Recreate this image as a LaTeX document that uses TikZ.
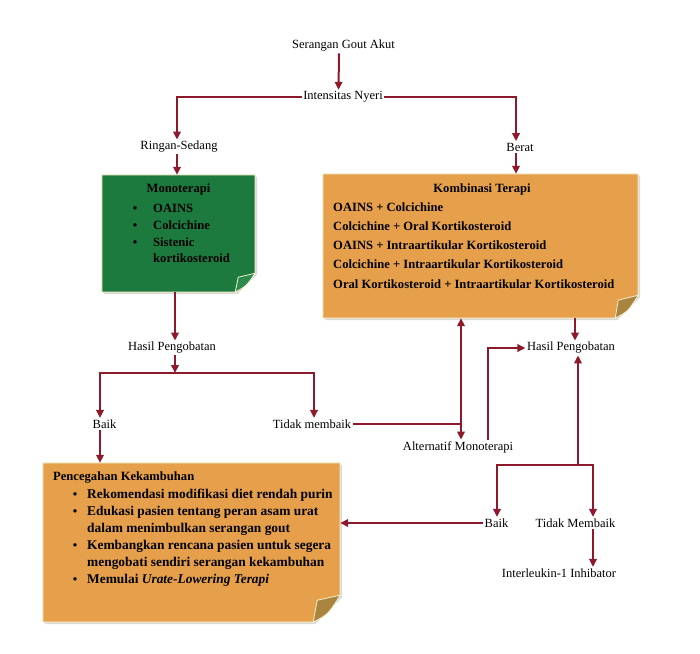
\documentclass[tikz,border=0pt]{standalone}
\usepackage{fontspec}
\setmainfont{Liberation Serif}
\usetikzlibrary{arrows.meta,calc}
\definecolor{arrowred}{HTML}{8C1A2C}
\definecolor{mgreen}{HTML}{1C7A3E}
\definecolor{morange}{HTML}{E6A04C}
\definecolor{cream}{HTML}{F4EFCB}
\definecolor{gfold}{HTML}{2C8A4C}
\definecolor{ofold}{HTML}{A8843F}
\definecolor{shadowgray}{HTML}{DADADA}
\begin{document}
\begin{tikzpicture}[x=1pt,y=-1pt,
  lbl/.style={inner sep=1.5pt, font=\fontsize{12.5}{15}\selectfont},
  arr/.style={draw=arrowred, line width=2pt, -{Triangle[length=8pt,width=7.5pt]}},
  ln/.style={draw=arrowred, line width=2pt},
  boxarea/.style={inner sep=0pt, draw=none},
  btext/.style={font=\bfseries\fontsize{12.6}{15}\selectfont, inner sep=0pt, anchor=base west},
  ptext/.style={font=\bfseries\fontsize{13.4}{16}\selectfont, inner sep=0pt, anchor=base west},
  bull/.style={font=\bfseries\fontsize{12.6}{15}\selectfont, inner sep=0pt, anchor=base},
  boxfill/.style={draw=cream, line width=1pt},
  foldfill/.style={draw=cream, line width=0.8pt}
]
\useasboundingbox (0,0) rectangle (700,653);
\fill[white] (0,0) rectangle (700,653);

% ---------- boxes ----------
\node[boxarea, minimum width=153pt, minimum height=117pt] (mono) at (178.5,233.5) {};
\node[boxarea, minimum width=315pt, minimum height=144pt] (komb) at (480.5,246) {};
\node[boxarea, minimum width=297pt, minimum height=159pt] (prev) at (191.5,542.5) {};

% shadows
\foreach \b/\c in {mono/20, komb/23, prev/27}{
  \fill[shadowgray] ([shift={(2pt,-2pt)}]\b.north west) -- ([shift={(2pt,-2pt)}]\b.north east)
     -- ([shift={(2pt,\c pt-2pt)}]\b.south east) -- ([shift={(2pt-\c pt,-2pt)}]\b.south east)
     -- ([shift={(2pt,-2pt)}]\b.south west) -- cycle;
}

\path[fill=mgreen, boxfill] (mono.north west) -- (mono.north east) -- ([yshift=19pt]mono.south east)
  -- ([xshift=-20pt]mono.south east) -- (mono.south west) -- cycle;
\path[fill=gfold, foldfill] ([xshift=-20pt]mono.south east) -- ([xshift=-17pt,yshift=15pt]mono.south east)
  -- ([yshift=19pt]mono.south east) .. controls ([xshift=-9pt,yshift=6pt]mono.south east) .. ([xshift=-20pt]mono.south east) -- cycle;

\path[fill=morange, boxfill] (komb.north west) -- (komb.north east) -- ([yshift=23pt]komb.south east)
  -- ([xshift=-23pt]komb.south east) -- (komb.south west) -- cycle;
\path[fill=ofold, foldfill] ([xshift=-23pt]komb.south east) -- ([xshift=-20pt,yshift=18pt]komb.south east)
  -- ([yshift=23pt]komb.south east) .. controls ([xshift=-10pt,yshift=7pt]komb.south east) .. ([xshift=-23pt]komb.south east) -- cycle;

\path[fill=morange, boxfill] (prev.north west) -- (prev.north east) -- ([yshift=27pt]prev.south east)
  -- ([xshift=-27pt]prev.south east) -- (prev.south west) -- cycle;
\path[fill=ofold, foldfill] ([xshift=-27pt]prev.south east) -- ([xshift=-23pt,yshift=22pt]prev.south east)
  -- ([yshift=27pt]prev.south east) .. controls ([xshift=-12pt,yshift=8pt]prev.south east) .. ([xshift=-27pt]prev.south east) -- cycle;

% ---------- box texts ----------
\node[bull] (monot) at (178.5,192) {Monoterapi};
\node[bull] (mb1) at (135,212) {\textbullet};
\node[bull] (mb2) at (135,229) {\textbullet};
\node[bull] (mb3) at (135,246) {\textbullet};
\node[btext] (mi1) at (153,212) {OAINS};
\node[btext] (mi2) at (153,229) {Colcichine};
\node[btext] (mi3) at (153,246) {Sistenic};
\node[btext] (mi4) at (153,262) {kortikosteroid};

\node[bull] (kombt) at (482,192) {Kombinasi Terapi};
\node[btext] (k1) at (333,211) {OAINS + Colcichine};
\node[btext] (k2) at (333,230) {Colcichine + Oral Kortikosteroid};
\node[btext] (k3) at (333,249) {OAINS + Intraartikular Kortikosteroid};
\node[btext] (k4) at (333,268) {Colcichine + Intraartikular Kortikosteroid};
\node[btext] (k5) at (333,288) {Oral Kortikosteroid + Intraartikular Kortikosteroid};

\node[btext] (prevt) at (53,480) {Pencegahan Kekambuhan};
\node[bull] (pb1) at (75,498) {\textbullet};
\node[bull] (pb2) at (75,515) {\textbullet};
\node[bull] (pb3) at (75,549) {\textbullet};
\node[bull] (pb4) at (75,583) {\textbullet};
\node[ptext] (p1) at (87,498) {Rekomendasi modifikasi diet rendah purin};
\node[ptext] (p2) at (87,515) {Edukasi pasien tentang peran asam urat};
\node[ptext] (p2b) at (87,532) {dalam menimbulkan serangan gout};
\node[ptext] (p3) at (87,549) {Kembangkan rencana pasien untuk segera};
\node[ptext] (p3b) at (87,566) {mengobati sendiri serangan kekambuhan};
\node[ptext] (p4) at (87,583) {Memulai \textit{Urate-Lowering Terapi}};

% ---------- labels ----------
\node[lbl] (serangan) at (343.5,46) {Serangan Gout Akut};
\node[lbl] (intensitas) at (343,97) {Intensitas Nyeri};
\node[lbl] (ringan) at (179,147) {Ringan-Sedang};
\node[lbl] (berat) at (520,147) {Berat};
\node[lbl] (hasil1) at (172,348) {Hasil Pengobatan};
\node[lbl] (baik1) at (104.5,424) {Baik};
\node[lbl] (tidak1) at (312,424) {Tidak membaik};
\node[lbl] (alt) at (458,447) {Alternatif Monoterapi};
\node[lbl] (hasil2) at (571,348) {Hasil Pengobatan};
\node[lbl] (baik2) at (496.5,523) {Baik};
\node[lbl] (tidak2) at (575.5,523) {Tidak Membaik};
\node[lbl] (inter) at (559,573) {Interleukin-1 Inhibator};

\coordinate (j1) at (175,373);
\coordinate (j2) at (461,424);
\coordinate (j4) at (488,440);
\coordinate (j5) at (575,320);
\coordinate (j3) at (578,465);

% ---------- connectors ----------
\draw[arr] ([xshift=-4.5pt]serangan.south) -- ([xshift=-4.5pt]intensitas.north);
\draw[arr] (intensitas.west) -| ([xshift=-2pt]ringan.north);
\draw[arr] (intensitas.east) -| ([xshift=-4pt]berat.north);
\draw[arr] ([xshift=-2pt]ringan.south) -- ([xshift=-2pt]ringan.south |- mono.north);
\draw[arr] ([xshift=-4pt]berat.south) -- ([xshift=-4pt]berat.south |- komb.north);
\draw[arr] ([xshift=-3.5pt]mono.south) -- ([xshift=-3.5pt]mono.south |- hasil1.north);
\draw[arr] (hasil1.south -| j1) -- (j1);
\draw[arr] (j1) -| ([xshift=-4.5pt]baik1.north);
\draw[arr] (j1) -| ([xshift=2pt]tidak1.north);
\draw[arr] ([xshift=-4.5pt]baik1.south) -- ([xshift=-4.5pt]baik1.south |- prev.north);
\draw[ln] (tidak1.east) -- (tidak1.east -| j2);
\draw[arr] (tidak1.east -| j2) -- (j2 |- komb.south);
\draw[arr] (tidak1.east -| j2) -- (j2 |- alt.north);
\draw[arr] (alt.north -| j4) |- (hasil2.west);
\draw[arr] (komb.south -| j5) -- (j5 |- hasil2.north);
\draw[arr] (j3) -- (j3 |- hasil2.south);
\draw[arr] (j3) -| ([xshift=0.5pt]baik2.north);
\draw[arr] (j3) -| ([xshift=17.5pt]tidak2.north);
\draw[arr] (baik2.west) -- (baik2.west -| prev.east);
\draw[arr] ([xshift=17.5pt]tidak2.south) -- ([xshift=17.5pt]tidak2.south |- inter.north);
\end{tikzpicture}
\end{document}
